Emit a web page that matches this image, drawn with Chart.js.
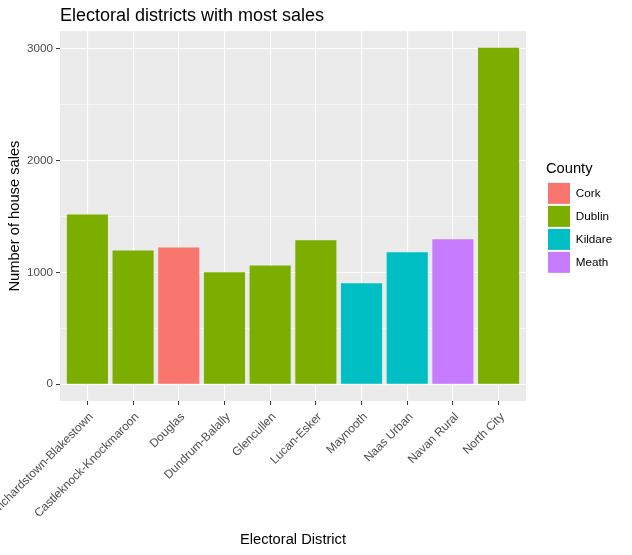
<!DOCTYPE html>
<html>
<head>
<meta charset="utf-8">
<script src="https://cdn.jsdelivr.net/npm/chart.js@4/dist/chart.umd.min.js"></script>
<style>
  html, body { margin: 0; padding: 0; background: #ffffff; }
</style>
</head>
<body>
<canvas id="chart" width="632" height="555"></canvas>
<script>
const districts = ['Blanchardstown-Blakestown', 'Castleknock-Knockmaroon', 'Douglas', 'Dundrum-Balally', 'Glencullen',
    'Lucan-Esker', 'Maynooth', 'Naas Urban', 'Navan Rural', 'North City'];
const sales = [1519, 1197, 1224, 1002, 1063, 1287, 903, 1180, 1296, 3009];
const countyOf = ['Dublin', 'Dublin', 'Cork', 'Dublin', 'Dublin', 'Dublin', 'Kildare', 'Kildare', 'Meath', 'Dublin'];
const counties = ['Cork', 'Dublin', 'Kildare', 'Meath'];
const countyColors = ['#F8766D', '#7CAE00', '#00BFC4', '#C77CFF'];
const yGridValues = [0, 500, 1000, 1500, 2000, 2500, 3000];
const yLabelValues = [0, 1000, 2000, 3000];

Chart.defaults.font.family = "'Liberation Sans', Arial, sans-serif";

// ggplot grey panel behind the grid
const panelBackground = {
    id: 'panelBackground',
    beforeDraw(chart) {
        const {ctx, chartArea: a} = chart;
        ctx.save();
        ctx.fillStyle = '#EBEBEB';
        ctx.fillRect(a.left, a.top, a.right - a.left, a.bottom - a.top);
        ctx.restore();
    }
};

// leave a gap between the panel and the legend, and let the legend run to the edge
const legendGap = {
    id: 'legendGap',
    afterLayout(chart) {
        const lg = chart.legend;
        lg.left += 20;
        lg.right = chart.width;
        lg.width = lg.right - lg.left;
    }
};

const datasets = counties.map((county, c) => ({
    label: county,
    data: districts.map((d, i) => ({x: i, y: sales[i]})).filter((p, i) => countyOf[i] === county),
    backgroundColor: countyColors[c],
    borderColor: countyColors[c],
    borderWidth: 0,
    grouped: false,
    barPercentage: 0.9,
    categoryPercentage: 1
}));

const isMajor = v => yLabelValues.includes(v);

new Chart(document.getElementById('chart'), {
    type: 'bar',
    data: {datasets: datasets},
    plugins: [panelBackground, legendGap],
    options: {
        responsive: false,
        animation: false,
        events: [],
        layout: {padding: {left: 0, right: 46, top: 0, bottom: 0}},
        scales: {
            x: {
                type: 'linear',
                min: -0.6,
                max: 9.6,
                offset: false,
                afterBuildTicks(s) {
                    s.ticks = districts.map((d, i) => ({value: i}));
                },
                afterFit(s) {
                    s.height = 154;
                    s.paddingLeft = 0;
                    s.paddingRight = 0;
                },
                border: {display: false},
                grid: {color: '#FFFFFF', lineWidth: 1.1, offset: false, tickColor: '#333333', tickLength: 4, tickWidth: 1},
                ticks: {
                    autoSkip: false,
                    minRotation: 45,
                    maxRotation: 45,
                    padding: 5,
                    labelOffset: 4,
                    color: '#4D4D4D',
                    font: {size: 11.9},
                    callback: v => districts[v]
                },
                title: {display: true, text: 'Electoral District', color: '#000000', font: {size: 14.7}, padding: {top: 0, bottom: 6}}
            },
            y: {
                type: 'linear',
                min: -150,
                max: 3159,
                afterBuildTicks(s) {
                    s.ticks = yGridValues.map(v => ({value: v}));
                },
                afterFit(s) {
                    s.width = 60;
                    s.paddingTop = 0;
                    s.paddingBottom = 0;
                },
                border: {display: false},
                grid: {
                    color: '#FFFFFF',
                    lineWidth: ctx => (ctx.tick && isMajor(ctx.tick.value)) ? 1.1 : 0.55,
                    tickColor: ctx => (ctx.tick && isMajor(ctx.tick.value)) ? '#333333' : 'rgba(0,0,0,0)',
                    tickLength: 4,
                    tickWidth: 1
                },
                ticks: {
                    autoSkip: false,
                    padding: 3,
                    color: '#4D4D4D',
                    font: {size: 11.7},
                    callback: v => isMajor(v) ? String(v) : ''
                },
                title: {display: true, text: 'Number of house sales', color: '#000000', font: {size: 14.7}, padding: {top: 6, bottom: 0}}
            }
        },
        plugins: {
            tooltip: {enabled: false},
            title: {
                display: true,
                text: 'Electoral districts with most sales',
                align: 'start',
                fullSize: false,
                color: '#000000',
                font: {size: 18, weight: 'normal'},
                padding: {top: 5, bottom: 4.5}
            },
            legend: {
                position: 'right',
                fullSize: false,
                maxWidth: 60,
                align: 'center',
                title: {display: true, text: 'County', position: 'start', color: '#000000', font: {size: 14.7}, padding: {top: 4, bottom: 2}},
                labels: {boxWidth: 22, boxHeight: 21, padding: 2, color: '#000000', font: {size: 11.7}}
            }
        }
    }
});
</script>
</body>
</html>
